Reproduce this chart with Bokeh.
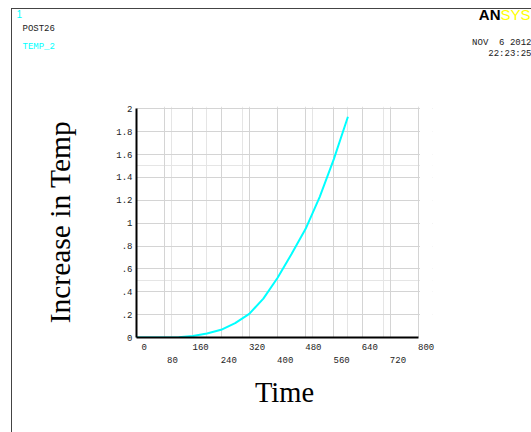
from bokeh.plotting import figure
from bokeh.models import (LinearAxis, FixedTicker, CustomJSTickFormatter, Label,
                          Range1d, Grid, BoxAnnotation)
from bokeh.embed import file_html
from bokeh.resources import INLINE

# ---- data ----
time = [0, 40, 80, 120, 160, 200, 240, 280, 320, 360, 400, 440, 480, 520, 560, 600]
temp_increase = [0.0, 0.0, 0.0, 0.003, 0.014, 0.035, 0.067, 0.125, 0.207, 0.34,
                 0.52, 0.73, 0.95, 1.23, 1.56, 1.93]

x_ticks_row1 = [0, 160, 320, 480, 640, 800]
x_labels_row1 = ["0", "160", "320", "480", "640", "800"]
x_ticks_row2 = [80, 240, 400, 560, 720]
x_labels_row2 = ["80", "240", "400", "560", "720"]
x_grid_ticks = [0, 80, 160, 240, 320, 400, 480, 560, 640, 720, 800]
y_ticks = [0, 0.2, 0.4, 0.6, 0.8, 1.0, 1.2, 1.4, 1.6, 1.8, 2.0]
y_labels = ["0", ".2", ".4", ".6", ".8", "1", "1.2", "1.4", "1.6", "1.8", "2"]
X_MIN, X_MAX, Y_MIN, Y_MAX = 0, 800, 0, 2

W, H = 531, 432
X_END = 840                 # ranges run a bit past the box so the edge labels/lines show
Y_END = 2.02
LEFT, TOP, FW, FH = 136, 106, 296, 231
BOTTOM_Y = TOP + FH
XS = FW / (X_END - X_MIN)   # pixels per x unit
YS = FH / (Y_END - Y_MIN)   # pixels per y unit

# x tick labels start at their tick: shift them by about half a label width
LABEL_SHIFT = 22

p = figure(width=W, height=H, output_backend="svg", toolbar_location=None,
           x_range=Range1d(X_MIN, X_END), y_range=Range1d(Y_MIN, Y_END),
           min_border_left=LEFT, min_border_top=TOP,
           min_border_right=W - LEFT - FW, min_border_bottom=H - TOP - FH,
           x_axis_location=None, y_axis_location=None)
p.extra_x_ranges = {"lab": Range1d(X_MIN - LABEL_SHIFT, X_END - LABEL_SHIFT)}
p.background_fill_color = "white"
p.border_fill_color = None
p.outline_line_color = None
p.styles = {"background-color": "white",
            "box-shadow": "inset 11px 8px 0 0 #ffffff, inset 12px 9px 0 0 #444444"}

def fmt(tvals, tlabels):
    return CustomJSTickFormatter(args=dict(tvals=tvals, tlabels=tlabels), code="""
        const i = tvals.findIndex(t => Math.abs(t - tick) < 1e-9);
        return i >= 0 ? tlabels[i] : '';
    """)

mono = "Liberation Mono"
serif = "Liberation Serif"

def style_axis(ax):
    ax.major_tick_line_color = None
    ax.minor_tick_line_color = None
    ax.major_tick_out = 0
    ax.major_tick_in = 0
    ax.minor_tick_out = 0
    ax.major_label_text_font = mono
    ax.major_label_text_font_size = "9px"
    ax.major_label_text_color = "#222222"
    ax.axis_label_text_font = serif
    ax.axis_label_text_font_style = "normal"
    ax.axis_label_text_color = "black"

# grids (light grey)
p.add_layout(Grid(dimension=0, ticker=FixedTicker(ticks=x_grid_ticks),
                  grid_line_color="#d4d4d4", grid_line_width=1))
p.add_layout(Grid(dimension=1, ticker=FixedTicker(ticks=y_ticks),
                  grid_line_color="#d4d4d4", grid_line_width=1))
# blank out the grid past the 0..800 x 0..2 box
p.add_layout(BoxAnnotation(left=X_MAX + 1.5 / XS, fill_color="white", fill_alpha=1,
                           line_color=None))
p.add_layout(BoxAnnotation(bottom=Y_MAX + 1.5 / YS, fill_color="white", fill_alpha=1,
                           line_color=None))

# y axis
ya = LinearAxis(ticker=FixedTicker(ticks=y_ticks), formatter=fmt(y_ticks, y_labels),
                bounds=(Y_MIN, Y_MAX))
style_axis(ya)
ya.axis_line_color = "black"
ya.axis_line_width = 2
ya.major_label_standoff = 4
ya.axis_label = "Increase in Temp"
ya.axis_label_text_font_size = "29.5px"
ya.axis_label_standoff = 37
p.add_layout(ya, "left")

# x axis line (0..800), no labels of its own
xa0 = LinearAxis(ticker=FixedTicker(ticks=[]), bounds=(X_MIN, X_MAX))
style_axis(xa0)
xa0.axis_line_color = "black"
xa0.axis_line_width = 2
xa0.major_label_standoff = 0
p.add_layout(xa0, "below")

# x axis, first row of labels
xa1 = LinearAxis(x_range_name="lab", ticker=FixedTicker(ticks=x_ticks_row1),
                 formatter=fmt(x_ticks_row1, x_labels_row1))
style_axis(xa1)
xa1.axis_line_color = None
xa1.major_label_standoff = 6
p.add_layout(xa1, "below")

# x axis, second row of labels
xa2 = LinearAxis(x_range_name="lab", ticker=FixedTicker(ticks=x_ticks_row2),
                 formatter=fmt(x_ticks_row2, x_labels_row2))
style_axis(xa2)
xa2.axis_line_color = None
xa2.major_label_standoff = 4
xa2.axis_label = "Time"
xa2.axis_label_text_font_size = "28.5px"
xa2.axis_label_standoff = 11
p.add_layout(xa2, "below")

p.line(time, temp_increase, line_color="#00FFFF", line_width=2)

# page decorations, placed by canvas pixel (converted to the frame's data units);
# they sit in the top panel so they are not clipped to the plot frame
def lab(text, px, py, color="#222222", size="9px", font=mono, align="left", style="normal"):
    l = Label(x=(px - LEFT) / XS + X_MIN, y=(BOTTOM_Y - py) / YS + Y_MIN, text=text,
              text_color=color, text_font_size=size, text_font=font,
              text_align=align, text_baseline="top", text_font_style=style)
    p.add_layout(l, "above")

lab("1", 16, 9, color="#00FFFF", size="10px", font="Liberation Sans")
lab("POST26", 22, 23)
lab("TEMP_2", 22, 41.5, color="#00FFFF")
lab("AN", 500, 5.5, color="black", size="15px", font="Liberation Sans", align="right", style="bold")
lab("SYS", 500, 5.5, color="#FFFF00", size="15px", font="Liberation Sans")
lab("NOV\u00a0 6 2012", 531, 37.5, align="right")
lab("22:23:25", 531, 48, align="right")

open("out.html", "w").write(file_html(p, INLINE))
